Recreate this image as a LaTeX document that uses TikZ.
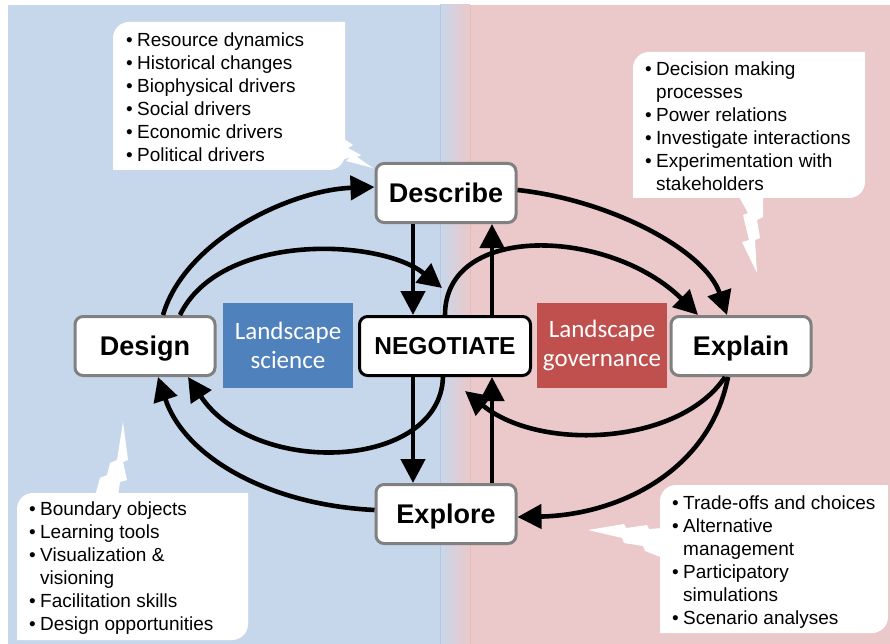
\documentclass[tikz,border=0pt]{standalone}
\usepackage{fontspec}
\setmainfont{Liberation Sans}
\newfontfamily\labelfont{Carlito}
\usetikzlibrary{arrows.meta}

\definecolor{bgblue}{RGB}{199,215,235}
\definecolor{bgred}{RGB}{235,200,201}
\definecolor{sciblue}{RGB}{79,129,189}
\definecolor{govred}{RGB}{192,80,77}
\definecolor{boxgray}{RGB}{128,128,128}

\newcommand{\itm}{\makebox[11pt][l]{\textbullet}}
\newcommand{\cnt}{\hspace*{11pt}}
% white note card, rounded top-left and bottom-right corners
\newcommand{\notecard}[4]{%
  \fill[white] (#1,#4) -- (#1,#2+16) arc[start angle=180,end angle=270,radius=16]
    -- (#3,#2) -- (#3,#4-16) arc[start angle=0,end angle=90,radius=16] -- cycle;}

\begin{document}
\begin{tikzpicture}[x=1pt, y=-1pt,
    stage/.style={draw=boxgray, line width=3pt, rounded corners=8pt, fill=white,
      minimum width=140pt, minimum height=59pt, text height=19.5pt, text depth=0pt,
      font=\fontsize{27}{30}\selectfont\bfseries},
    hub/.style={stage, draw=black, minimum width=171pt, text height=17.5pt,
      font=\fontsize{24.5}{28}\selectfont\bfseries},
    field/.style={fill=#1, text=white, minimum width=130pt, minimum height=85pt,
      align=center, font=\labelfont\fontsize{25}{29}\selectfont},
    notes/.style={anchor=north west, align=left, inner sep=0pt,
      font=\fontsize{19}{23}\selectfont},
    flow/.style={line width=4.6pt, -{Triangle[length=24pt 0 0,width=24pt 0 0]}}]
    \useasboundingbox (0,0) rectangle (890,644);

    % two halves of the background
    \fill[bgblue] (8,5) rectangle (440,644);
    \fill[bgred] (470,5) rectangle (890,644);
    \shade[left color=bgblue, right color=bgred] (440,5) rectangle (470,644);
    \draw[bgblue!92!black, line width=0.8pt] (440,5) -- (440,644);
    \draw[bgred!95!black, line width=0.8pt] (470,5) -- (470,644);

    % note cards with their lightning tails
    \notecard{113}{22}{345}{170}
    \fill[white] (338,135) -- (353,145) -- (348,148) -- (361,155) -- (357,157) -- (373,168)
        -- (346,161) -- (350,157) -- (335,163) -- cycle;
    \notecard{633}{52}{865}{198}
    \fill[white] (738,195) -- (748,213) -- (743,215) -- (749,240) -- (742,242) -- (757,273)
        -- (755,240) -- (760,238) -- (757,220) -- (763,217) -- (763,195) -- cycle;
    \notecard{17}{493}{248}{640}
    \fill[white] (95,496) -- (100,478) -- (107,475) -- (110,463) -- (117,460) -- (123,422)
        -- (128,460) -- (123,462) -- (127,480) -- (120,482) -- (118,496) -- cycle;
    \notecard{660}{485}{888}{633}
    \fill[white] (663,528) -- (649,529) -- (647,525) -- (626,528) -- (624,524) -- (588,530)
        -- (622,538) -- (624,543) -- (643,546) -- (645,551) -- (663,558) -- cycle;

    \node[notes] (describenotes) at (126,33) {\itm Resource dynamics\\ \itm Historical changes\\
        \itm Biophysical drivers\\ \itm Social drivers\\ \itm Economic drivers\\ \itm Political drivers};
    \node[notes] (explainnotes) at (645,62) {\itm Decision making\\ \cnt processes\\
        \itm Power relations\\ \itm Investigate interactions\\ \itm Experimentation with\\ \cnt stakeholders};
    \node[notes] (designnotes) at (29,502) {\itm Boundary objects\\ \itm Learning tools\\
        \itm Visualization \&\\ \cnt visioning\\ \itm Facilitation skills\\ \itm Design opportunities};
    \node[notes] (explorenotes) at (672,496) {\itm Trade-offs and choices\\ \itm Alternative\\
        \cnt management\\ \itm Participatory\\ \cnt simulations\\ \itm Scenario analyses};

    % the cycle
    \node[stage] (describe) at (446,193) {Describe};
    \node[hub] (neg) at (445,346) {NEGOTIATE};
    \node[stage] (explore) at (446,514) {Explore};
    \node[stage] (design) at (145,346) {Design};
    \node[stage] (explain) at (741,346) {Explain};
    \node[field=sciblue] (science) at (288,345) {Landscape\\science};
    \node[field=govred] (governance) at (602,345) {Landscape\\governance};

    \coordinate (negnw) at (442,288);
    \coordinate (negse) at (465,391);

    \draw[flow] ([xshift=-33pt]describe.south) -- ([xshift=-32pt]neg.north);
    \draw[flow] ([xshift=47pt]neg.north) -- ([xshift=46pt]describe.south);
    \draw[flow] ([xshift=-32pt]neg.south) -- ([xshift=-33pt]explore.north);
    \draw[flow] ([xshift=46pt]explore.north) -- ([xshift=47pt]neg.south);

    \draw[flow] ([xshift=18pt]design.north) .. controls (185,240) and (290,190) .. ([yshift=6pt]describe.west);
    \draw[flow] ([xshift=35pt]design.north) .. controls (220,232) and (380,238) .. (negnw);
    \draw[flow] ([xshift=-2pt]neg.south) .. controls (440,470) and (255,478) .. ([xshift=43pt]design.south);
    \draw[flow] ([yshift=4pt]explore.west) .. controls (270,505) and (185,458) .. ([xshift=13pt]design.south);
    \draw[flow] ([yshift=3pt]describe.east) .. controls (610,200) and (705,250) .. ([xshift=-14pt]explain.north);
    \draw[flow] (neg.north) .. controls (445,222) and (610,228) .. ([xshift=-43pt]explain.north);
    \draw[flow] ([xshift=-16pt]explain.south) .. controls (680,445) and (540,452) .. (negse);
    \draw[flow] ([xshift=-13pt]explain.south) .. controls (710,470) and (620,515) .. ([yshift=-3pt]explore.east);
\end{tikzpicture}
\end{document}
